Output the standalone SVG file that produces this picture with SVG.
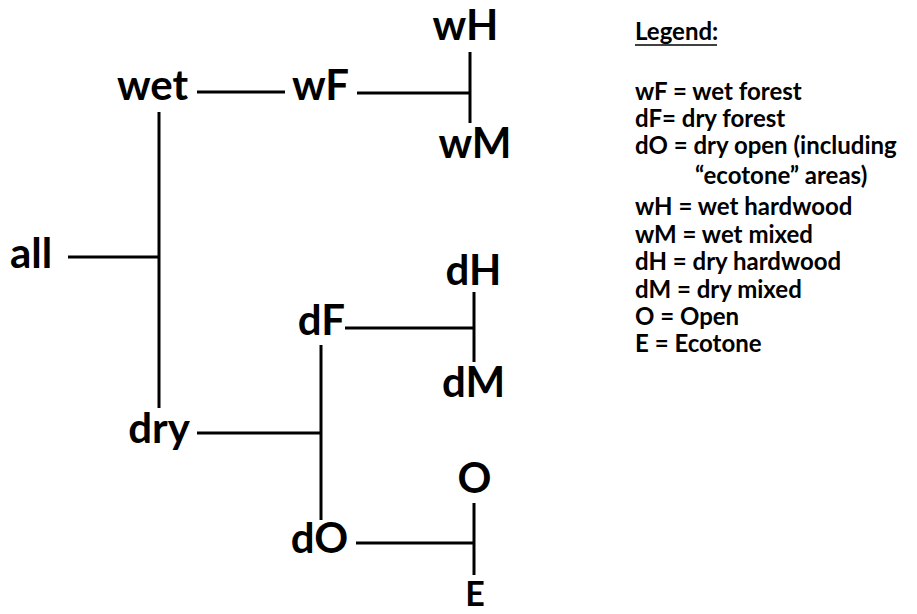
<svg xmlns="http://www.w3.org/2000/svg" width="917" height="614" viewBox="0 0 917 614">
<style>
.lbl{font-family:Lato,"Liberation Sans",sans-serif;font-size:42px;font-weight:bold;fill:#000;text-anchor:middle}
.leg{font-family:Lato,"Liberation Sans",sans-serif;font-size:24px;font-weight:bold;fill:#000}
.ln{stroke:#000;stroke-width:3;fill:none}
</style>
<rect width="917" height="614" fill="#fff"/>
<g id="connectors">
<line class="ln" x1="197" y1="92" x2="285" y2="92"/>
<line class="ln" x1="357" y1="93" x2="470" y2="93"/>
<line class="ln" x1="470" y1="52" x2="470" y2="123"/>
<line class="ln" x1="159" y1="112" x2="159" y2="408"/>
<line class="ln" x1="68" y1="257" x2="159" y2="257"/>
<line class="ln" x1="345" y1="328" x2="474" y2="328"/>
<line class="ln" x1="474" y1="292" x2="474" y2="362"/>
<line class="ln" x1="321" y1="345" x2="321" y2="520"/>
<line class="ln" x1="197" y1="433" x2="321" y2="433"/>
<line class="ln" x1="356" y1="543" x2="474" y2="543"/>
<line class="ln" x1="474" y1="503" x2="474" y2="575"/>
</g>
<g id="node-all"><text class="lbl" x="31" y="268">all</text></g>
<g id="node-wet"><text class="lbl" x="152.5" y="100">wet</text></g>
<g id="node-wF"><text class="lbl" x="320.5" y="100">wF</text></g>
<g id="node-wH"><text class="lbl" x="465.5" y="40">wH</text></g>
<g id="node-wM"><text class="lbl" x="475" y="158">wM</text></g>
<g id="node-dry"><text class="lbl" x="159" y="443">dry</text></g>
<g id="node-dF"><text class="lbl" x="321.5" y="335">dF</text></g>
<g id="node-dH"><text class="lbl" x="473.5" y="285">dH</text></g>
<g id="node-dM"><text class="lbl" x="473.5" y="397">dM</text></g>
<g id="node-dO"><text class="lbl" x="319.5" y="553">dO</text></g>
<g id="node-O"><text class="lbl" x="474.5" y="493">O</text></g>
<g id="node-E"><text class="lbl" x="475" y="606" style="font-size:34px">E</text></g>
<g id="legend">
<text class="leg" x="635" y="40">Legend:</text>
<line x1="635" y1="45" x2="717" y2="45" stroke="#000" stroke-width="1.5"/>
<text class="leg" x="635" y="100">wF = wet forest</text>
<text class="leg" x="635" y="127">dF= dry forest</text>
<text class="leg" x="635" y="154">dO = dry open (including</text>
<text class="leg" x="695" y="184">“ecotone” areas)</text>
<text class="leg" x="635" y="215">wH = wet hardwood</text>
<text class="leg" x="635" y="243">wM = wet mixed</text>
<text class="leg" x="635" y="270">dH = dry hardwood</text>
<text class="leg" x="635" y="298">dM = dry mixed</text>
<text class="leg" x="635" y="325">O = Open</text>
<text class="leg" x="635" y="352">E = Ecotone</text>
</g>
</svg>
